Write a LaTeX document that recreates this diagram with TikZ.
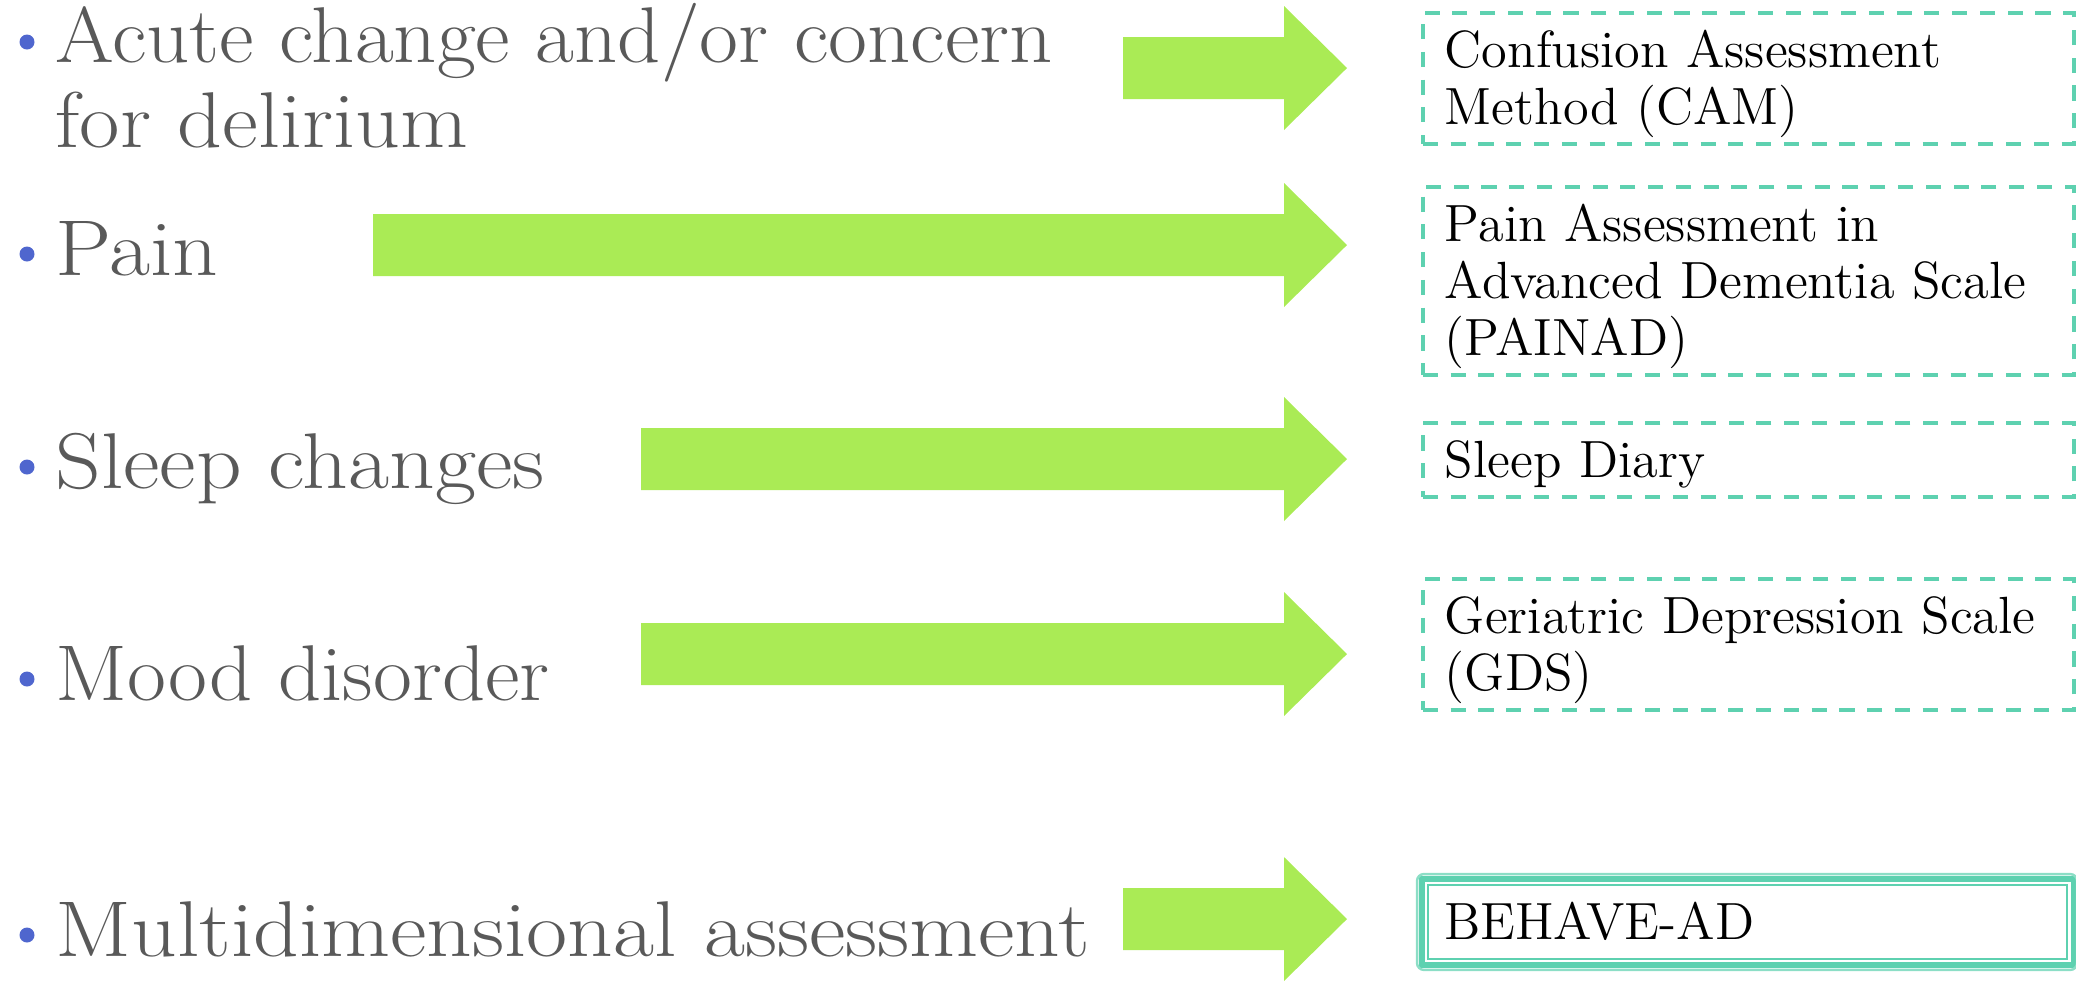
\documentclass[tikz,border=0pt]{standalone}
\usepackage{tikz}
\usepackage{graphicx}
\usepackage{xcolor}
\usetikzlibrary{positioning,calc}

\definecolor{itemgray}{RGB}{89,89,89}
\definecolor{dotblue}{RGB}{79,102,206}
\definecolor{arrowgreen}{RGB}{170,235,85}
\definecolor{boxteal}{RGB}{94,209,176}
\definecolor{rimteal}{RGB}{140,222,198}

\newcommand{\topstrut}{\rule{0pt}{15.6pt}}
\newcommand{\botstrut}{\rule[-5.4pt]{0pt}{5.4pt}}
\newcommand{\wide}[2][1.13]{\scalebox{#1}[1]{#2}}

\begin{document}
\begin{tikzpicture}[
  item/.style={anchor=base west, inner sep=0pt, align=left, text=itemgray,
               font=\fontsize{22.5}{24}\selectfont},
  dot/.style={circle, fill=dotblue, inner sep=0pt, minimum size=0.15cm},
  bigarrow/.style={fill=arrowgreen},
  tool/.style={draw=boxteal, line width=1.1pt, dash pattern=on 4.3pt off 3.6pt,
               anchor=north west, inner xsep=0.22cm, inner ysep=0pt,
               text width=6.07cm, align=left,
               font=\fontsize{14.9}{16.2}\selectfont,
               execute at begin node=\topstrut, execute at end node=\botstrut},
  framed/.style={tool, solid, line width=0.6pt, inner xsep=0.16cm}
]
\useasboundingbox (0,0) rectangle (20.76,-9.80);

% concerns (left column)
\node[dot] (d1) at (0.27,-0.42) {};
\node[dot] (d2) at (0.27,-2.54) {};
\node[dot] (d3) at (0.27,-4.67) {};
\node[dot] (d4) at (0.27,-6.79) {};
\node[dot] (d5) at (0.27,-9.35) {};
\node[item] (acute) at (0.55,-1.47) {\wide[1.07]{Acute change and/or concern}\\\wide[1.11]{for delirium}};
\node[item] (pain)  at (0.55,-2.75) {\wide{Pain}};
\node[item] (sleep) at (0.55,-4.88) {\wide{Sleep changes}};
\node[item] (mood)  at (0.55,-7.00) {\wide[1.07]{Mood disorder}};
\node[item] (multi) at (0.55,-9.56) {\wide{Multidimensional assessment}};

% block arrows: tail x / centre y
\foreach \xs/\yc in {11.23/-0.68, 3.73/-2.45, 6.41/-4.59, 6.41/-6.54, 11.23/-9.19}
  \fill[bigarrow] (\xs,\yc+0.31) -- (12.84,\yc+0.31) -- (12.84,\yc+0.62)
    -- (13.47,\yc) -- (12.84,\yc-0.62) -- (12.84,\yc-0.31) -- (\xs,\yc-0.31) -- cycle;

% assessment tools (right column)
\node[tool] (cam)    at (14.21,-0.11) {Confusion Assessment\\Method (CAM)};
\node[tool] (painad) at (14.21,-1.85) {Pain Assessment in\\Advanced Dementia Scale\\(PAINAD)};
\node[tool] (diary)  at (14.21,-4.21) {Sleep Diary};
\node[tool] (gds)    at (14.21,-5.77) {Geriatric Depression Scale\\(GDS)};
\node[framed] (behave) at (14.27,-8.84) {BEHAVE-AD};

% thick-thin frame round BEHAVE-AD
\draw[boxteal, line width=1.5pt] ($(behave.south west)+(-0.05,-0.05)$)
  rectangle ($(behave.north east)+(0.05,0.05)$);
\draw[rimteal, line width=0.7pt, rounded corners=2pt] ($(behave.south west)+(-0.1,-0.1)$)
  rectangle ($(behave.north east)+(0.09,0.1)$);
\end{tikzpicture}
\end{document}
